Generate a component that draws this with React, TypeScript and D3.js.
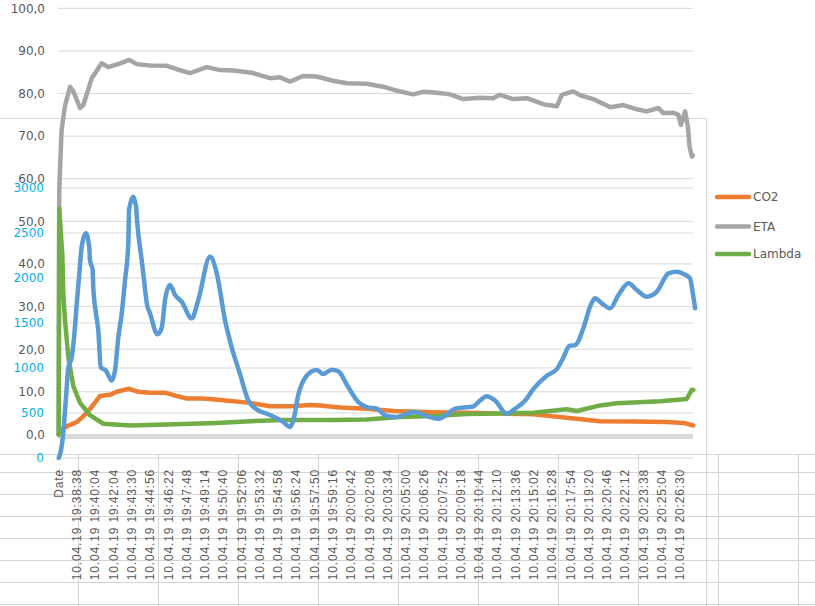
import * as d3 from "d3";

// category axis: header row "Date" is plotted as the first category
const categories = [
  "Date",
  "10.04.19 19:38:38", "10.04.19 19:40:04", "10.04.19 19:42:04", "10.04.19 19:43:30",
  "10.04.19 19:44:56", "10.04.19 19:46:22", "10.04.19 19:47:48", "10.04.19 19:49:14",
  "10.04.19 19:50:40", "10.04.19 19:52:06", "10.04.19 19:53:32", "10.04.19 19:54:58",
  "10.04.19 19:56:24", "10.04.19 19:57:50", "10.04.19 19:59:16", "10.04.19 20:00:42",
  "10.04.19 20:02:08", "10.04.19 20:03:34", "10.04.19 20:05:00", "10.04.19 20:06:26",
  "10.04.19 20:07:52", "10.04.19 20:09:18", "10.04.19 20:10:44", "10.04.19 20:12:10",
  "10.04.19 20:13:36", "10.04.19 20:15:02", "10.04.19 20:16:28", "10.04.19 20:17:54",
  "10.04.19 20:19:20", "10.04.19 20:20:46", "10.04.19 20:22:12", "10.04.19 20:23:38",
  "10.04.19 20:25:04", "10.04.19 20:26:30",
];

// [category position, value]
const co2: [number, number][] = [
  [0, 0], [0.07, 0.8], [0.44, 1.9], [0.99, 2.9], [1.53, 5.0], [2.26, 9], [2.81, 9.3],
  [3.17, 10], [3.85, 10.7], [4.36, 10], [5.0, 9.8], [5.82, 9.8], [6.46, 9], [7.0, 8.4],
  [7.91, 8.4], [9.01, 8], [10.47, 7.4], [11.57, 6.6], [12.66, 6.6], [13.75, 6.9],
  [14.3, 6.8], [15.4, 6.3], [16.86, 6.0], [18.31, 5.5], [20.5, 5.2], [22.33, 5.1],
  [24.16, 4.9], [25.98, 4.7], [27.8, 3.9], [29.63, 3.1], [31.45, 3.0], [33.28, 2.9],
  [34.19, 2.7], [34.73, 2.1],
];

const eta: [number, number][] = [
  [0, 0], [0.03, 57], [0.07, 62], [0.16, 71.5], [0.34, 77], [0.62, 81.6], [0.8, 80.5],
  [1.17, 76.6], [1.35, 77.3], [1.81, 83.6], [2.35, 87.1], [2.71, 86.2], [3.36, 87.1],
  [3.86, 87.9], [4.27, 86.9], [5.0, 86.6], [5.91, 86.5], [6.46, 85.7], [7.19, 84.8],
  [8.1, 86.2], [8.83, 85.5], [9.56, 85.4], [10.65, 84.8], [11.57, 83.6], [12.11, 83.8],
  [12.66, 82.8], [13.37, 84.1], [14.12, 84], [15.01, 83], [15.76, 82.4], [16.86, 82.3],
  [17.75, 81.6], [18.3, 80.9], [19.39, 79.8], [19.94, 80.4], [20.69, 80.2], [21.42, 79.8],
  [22.13, 78.7], [23.06, 79], [23.77, 78.9], [24.15, 79.7], [24.86, 78.7], [25.62, 78.9],
  [26.51, 77.5], [27.26, 77], [27.53, 79.7], [28.15, 80.5], [28.54, 79.6], [29.25, 78.7],
  [30.18, 76.8], [30.9, 77.3], [31.64, 76.3], [32.18, 75.8], [32.82, 76.6], [33.09, 75.4],
  [33.64, 75.5], [33.91, 75], [34.05, 72.6], [34.28, 75.8], [34.43, 72.3], [34.52, 67.6],
  [34.65, 65.2], [34.7, 65.5],
];

const lambda: [number, number][] = [
  [0, 0], [0.03, 53], [0.2, 42], [0.25, 33.2], [0.34, 27], [0.53, 18], [0.8, 11.3],
  [1.17, 7.4], [1.71, 4.5], [2.44, 2.5], [3.9, 2.1], [5.91, 2.3], [8.65, 2.7],
  [10.47, 3.1], [12.29, 3.4], [13.75, 3.4], [15.03, 3.4], [16.86, 3.5], [18.68, 4.1],
  [20.5, 4.3], [22.33, 4.8], [24.16, 4.9], [25.98, 5.1], [27.8, 5.9], [28.35, 5.5],
  [29.63, 6.8], [30.54, 7.3], [32.92, 7.8], [34.37, 8.3], [34.65, 10.5], [34.73, 10.4],
];

// second chart, right-hand axis 0..3000, no legend entry
const second: [number, number][] = [
  [0, 0], [0.03, 15], [0.25, 272], [0.4, 676], [0.53, 1007], [0.71, 1117], [0.84, 1337],
  [0.99, 1719], [1.13, 2052], [1.26, 2348], [1.48, 2496], [1.67, 2348], [1.71, 2200],
  [1.86, 2089], [1.89, 1904], [2.04, 1607], [2.17, 1411], [2.3, 1007], [2.59, 970],
  [2.9, 860], [3.08, 970], [3.26, 1337], [3.45, 1607], [3.63, 1977], [3.81, 2385],
  [3.85, 2755], [4.08, 2903], [4.23, 2793], [4.3, 2607], [4.54, 2200], [4.67, 1977],
  [4.82, 1719], [5.0, 1607], [5.4, 1375], [5.64, 1448], [5.82, 1756], [6.09, 1922],
  [6.37, 1811], [6.73, 1736], [7.28, 1552], [7.64, 1756], [8.28, 2236], [8.65, 2052],
  [9.1, 1533], [9.47, 1227], [9.92, 934], [10.38, 639], [10.92, 529], [11.38, 493],
  [12.29, 400], [12.66, 345], [12.84, 419], [13.11, 700], [13.57, 915], [14.12, 978],
  [14.48, 934], [14.94, 981], [15.3, 963], [15.85, 786], [16.4, 621], [16.86, 566],
  [17.41, 548], [17.95, 466], [18.5, 455], [19.05, 493], [19.5, 511], [20.14, 466],
  [20.78, 437], [21.24, 482], [21.69, 548], [22.06, 559], [22.69, 573], [23.06, 639],
  [23.43, 687], [23.88, 639], [24.52, 493], [24.98, 548], [25.53, 639], [25.98, 768],
  [26.71, 915], [27.26, 989], [27.62, 1117], [27.95, 1246], [28.26, 1254], [28.72, 1448],
  [29.08, 1681], [29.35, 1775], [29.72, 1719], [30.17, 1663], [30.63, 1811], [31.18, 1941],
  [31.64, 1866], [32.18, 1792], [32.73, 1848], [33.37, 2052], [33.83, 2070], [34.19, 2045],
  [34.55, 1996], [34.7, 1830], [34.83, 1663],
];

const leftTicks = [0, 10, 20, 30, 40, 50, 60, 70, 80, 90, 100];
const rightTicks = [0, 500, 1000, 1500, 2000, 2500, 3000];
const legendNames = ["CO2", "ETA", "Lambda"];

const W = 815;
const H = 606;
const PLOT_L = 58;
const PLOT_R = 693;
const colors: Record<string, string> = {
  CO2: "#ED7D31",
  ETA: "#A5A5A5",
  Lambda: "#70AD47",
  second: "#5B9BD5",
};
const GRID = "#d9d9d9";
const SHEET = "#d4d4d4";
const TEXT = "#595959";
const AXIS_FONT = "'DejaVu Sans', Verdana, sans-serif";
const CAT_FONT = "'Liberation Sans', Arial, sans-serif";

const fmt = (v: number) => d3.format(".1f")(v).replace(".", ",");

export default function App() {
  const x = d3.scaleLinear().domain([0, categories.length - 1]).range([58.7, 680]);
  const yLeft = d3.scaleLinear().domain([0, 100]).range([434.4, 8.3]);
  const yRight = d3.scaleLinear().domain([0, 3000]).range([458, 188]);

  const lineLeft = d3
    .line<[number, number]>()
    .x((d) => x(d[0]))
    .y((d) => yLeft(d[1]));
  const lineRight = d3
    .line<[number, number]>()
    .x((d) => x(d[0]))
    .y((d) => yRight(d[1]))
    .curve(d3.curveMonotoneX);

  const leftSeries: [string, [number, number][]][] = [
    ["CO2", co2],
    ["ETA", eta],
    ["Lambda", lambda],
  ];

  // spreadsheet background grid under the charts
  const sheetRows = [454, ...d3.range(7).map((i) => 472 + i * 22)];
  const sheetCols = d3.range(10).map((i) => 78 + i * 80);

  return (
    <svg
      width={W}
      height={H}
      style={{ position: "absolute", left: 0, top: 0, background: "#fff" }}
    >
      {/* sheet grid */}
      <g stroke={SHEET} strokeWidth={1}>
        {sheetRows.map((r) => (
          <line key={"r" + r} x1={0} x2={W} y1={r + 0.5} y2={r + 0.5} />
        ))}
        {sheetCols.map((c) => (
          <line key={"c" + c} x1={c + 0.5} x2={c + 0.5} y1={454} y2={H} />
        ))}
      </g>

      {/* first chart gridlines */}
      <g stroke={GRID} strokeWidth={1}>
        {leftTicks.map((t) => (
          <line key={t} x1={PLOT_L} x2={PLOT_R} y1={yLeft(t)} y2={yLeft(t)} />
        ))}
      </g>
      {/* second chart gridlines and border */}
      <g stroke={GRID} strokeWidth={1}>
        {rightTicks.map((t) => (
          <line key={t} x1={PLOT_L} x2={PLOT_R} y1={yRight(t)} y2={yRight(t)} />
        ))}
        <line x1={0} x2={706.5} y1={118.5} y2={118.5} />
        <line x1={706.5} x2={706.5} y1={118.5} y2={H} />
      </g>
      <rect x={PLOT_L} y={434} width={PLOT_R - PLOT_L} height={5} fill="#d9d9d9" />

      {/* left axis labels */}
      <g fontFamily={AXIS_FONT} fontSize={12} textAnchor="end">
        {leftTicks.map((t) => (
          <text key={t} x={45} y={yLeft(t)} dy="0.36em" fill={TEXT}>
            {fmt(t)}
          </text>
        ))}
        {rightTicks.map((t) => (
          <text key={t} x={44} y={yRight(t)} dy="0.36em" fill="#00B0F0">
            {t}
          </text>
        ))}
      </g>

      {/* category labels */}
      <g
        fontFamily={CAT_FONT}
        fontSize={12}
        fill={TEXT}
        textAnchor="end"
        letterSpacing={0.85}
      >
        {categories.map((c, i) => (
          <text
            key={c}
            transform={`translate(${x(i)},469) rotate(-90)`}
            dy="0.35em"
          >
            {c}
          </text>
        ))}
      </g>

      {/* series */}
      <g fill="none" strokeWidth={4.5} strokeLinejoin="round" strokeLinecap="round">
        {leftSeries.map(([name, data]) => (
          <path key={name} d={lineLeft(data) ?? ""} stroke={colors[name]} />
        ))}
        <path d={lineRight(second) ?? ""} stroke={colors.second} />
      </g>

      {/* legend */}
      <g fontFamily={AXIS_FONT} fontSize={12} fill={TEXT}>
        {legendNames.map((n, i) => {
          const ly = [197, 226.5, 254][i];
          return (
            <g key={n}>
              <line
                x1={717}
                x2={749}
                y1={ly}
                y2={ly}
                stroke={colors[n]}
                strokeWidth={4.5}
                strokeLinecap="round"
              />
              <text x={753} y={ly} dy="0.36em">
                {n}
              </text>
            </g>
          );
        })}
      </g>
    </svg>
  );
}
